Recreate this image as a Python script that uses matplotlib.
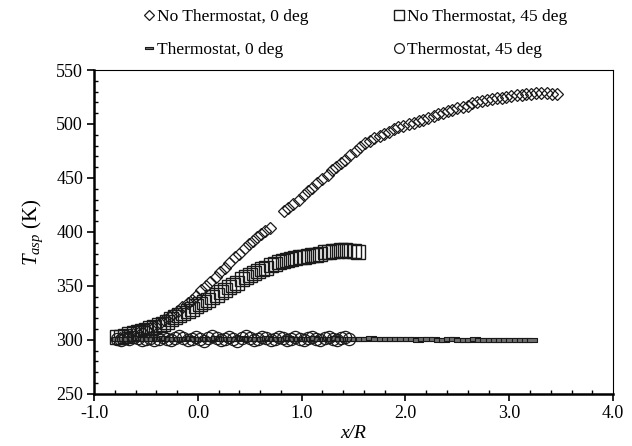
import matplotlib
matplotlib.use("Agg")
import matplotlib.pyplot as plt
from matplotlib.path import Path
from matplotlib.ticker import MultipleLocator, FormatStrFormatter

plt.rcParams['font.family'] = ['Liberation Serif', 'DejaVu Serif']
plt.rcParams['mathtext.fontset'] = 'custom'
plt.rcParams['mathtext.rm'] = 'Liberation Serif'
plt.rcParams['mathtext.it'] = 'Liberation Serif:italic'

# No Thermostat, 0 deg
x_nt0 = [-0.75, -0.71, -0.67, -0.63, -0.58, -0.54, -0.50, -0.46, -0.41, -0.37,
         -0.33, -0.28, -0.24, -0.19, -0.15, -0.10, -0.06, -0.02, 0.03, 0.08,
         0.12, 0.17, 0.21, 0.26, 0.30, 0.36, 0.40, 0.45, 0.49, 0.53,
         0.57, 0.61, 0.65, 0.69, 0.83, 0.87, 0.92, 0.97, 1.02, 1.06,
         1.10, 1.15, 1.20, 1.25, 1.29, 1.33, 1.38, 1.42, 1.47, 1.52,
         1.56, 1.61, 1.66, 1.70, 1.75, 1.79, 1.84, 1.89, 1.93, 1.98,
         2.03, 2.08, 2.13, 2.17, 2.22, 2.27, 2.31, 2.36, 2.41, 2.45,
         2.50, 2.55, 2.60, 2.64, 2.69, 2.74, 2.79, 2.83, 2.88, 2.93,
         2.97, 3.02, 3.07, 3.12, 3.16, 3.21, 3.26, 3.31, 3.36, 3.41, 3.46]
t_nt0 = [302, 303, 304, 305, 306, 307, 309, 311, 313, 316,
         318, 321, 324, 327, 330, 334, 337, 341, 346, 350,
         354, 358, 363, 367, 371, 377, 380, 385, 389, 392,
         395, 398, 401, 404, 419, 422, 426, 430, 434, 438,
         441, 445, 449, 453, 457, 460, 464, 467, 471, 475,
         479, 482, 484, 487, 489, 491, 493, 495, 497, 498,
         500, 501, 503, 504, 506, 507, 509, 510, 512, 513,
         515, 516, 517, 519, 520, 521, 522, 523, 524, 524,
         525, 526, 527, 527, 528, 528, 529, 529, 529, 528, 528]

# No Thermostat, 45 deg
x_nt45 = [-0.78, -0.74, -0.70, -0.66, -0.62, -0.58, -0.54, -0.50, -0.46, -0.42,
          -0.38, -0.34, -0.30, -0.26, -0.22, -0.18, -0.14, -0.10, -0.06, -0.02,
          0.02, 0.06, 0.10, 0.14, 0.18, 0.22, 0.26, 0.30, 0.34, 0.38,
          0.42, 0.46, 0.50, 0.54, 0.58, 0.62, 0.66, 0.70, 0.74, 0.78,
          0.82, 0.86, 0.90, 0.94, 0.98, 1.02, 1.06, 1.10, 1.14, 1.18,
          1.22, 1.26, 1.30, 1.34, 1.38, 1.42, 1.46, 1.50, 1.54]
t_nt45 = [303, 303, 304, 305, 306, 307, 308, 309, 311, 312,
          314, 315, 317, 319, 321, 323, 325, 327, 329, 331,
          333, 335, 337, 340, 342, 344, 346, 349, 351, 353,
          356, 358, 360, 362, 364, 366, 367, 369, 370, 372,
          373, 374, 375, 376, 377, 377, 378, 379, 379, 380,
          381, 381, 382, 382, 383, 383, 382, 382, 381]

# Thermostat, 0 deg
x_t0 = [-0.78, -0.73, -0.68, -0.63, -0.58, -0.53, -0.48, -0.43, -0.38, -0.33,
        -0.28, -0.23, -0.18, -0.13, -0.08, -0.03, 0.02, 0.07, 0.12, 0.17,
        0.22, 0.27, 0.32, 0.37, 0.42, 0.47, 0.52, 0.57, 0.62, 0.67,
        0.72, 0.77, 0.82, 0.87, 0.92, 0.97, 1.02, 1.07, 1.12, 1.17,
        1.22, 1.27, 1.32, 1.37, 1.42, 1.47, 1.52, 1.57, 1.62, 1.67,
        1.72, 1.77, 1.82, 1.87, 1.92, 1.97, 2.02, 2.07, 2.12, 2.17,
        2.22, 2.27, 2.32, 2.37, 2.42, 2.47, 2.52, 2.57, 2.62, 2.67,
        2.72, 2.77, 2.82, 2.87, 2.92, 2.97, 3.02, 3.07, 3.12, 3.17, 3.22]
t_t0 = [300.5, 301, 300.5, 301, 301.5, 301, 300.5, 301, 301, 301.5,
        301, 300.5, 301, 301, 301.5, 301, 300.5, 301, 301, 301.5,
        301, 301, 300.5, 301, 301.5, 301, 301, 300.5, 301, 301.5,
        301, 301, 301, 301.5, 301, 301, 300.5, 301, 301.5, 301,
        301, 301, 301.5, 301, 301, 301, 300.5, 301, 301, 301.5,
        301, 300.5, 300.5, 301, 301, 300.5, 300.5, 300.5, 300, 300.5,
        300.5, 300.5, 300, 300, 300.5, 300.5, 300, 300, 300, 300.5,
        300, 300, 299.5, 300, 300, 299.5, 299.5, 299.5, 299.5, 299.5, 299.5]

# Thermostat, 45 deg
x_t45 = [-0.78, -0.74, -0.70, -0.66, -0.62, -0.58, -0.54, -0.50, -0.46, -0.42,
         -0.38, -0.34, -0.30, -0.26, -0.22, -0.18, -0.14, -0.10, -0.06, -0.02,
         0.02, 0.06, 0.10, 0.14, 0.18, 0.22, 0.26, 0.30, 0.34, 0.38,
         0.42, 0.46, 0.50, 0.54, 0.58, 0.62, 0.66, 0.70, 0.74, 0.78,
         0.82, 0.86, 0.90, 0.94, 0.98, 1.02, 1.06, 1.10, 1.14, 1.18,
         1.22, 1.26, 1.30, 1.34, 1.38, 1.42, 1.46]
t_t45 = [301, 300, 302, 301, 303, 302, 300, 301, 302, 300,
         301, 303, 301, 300, 302, 304, 302, 300, 301, 303,
         301, 299, 302, 304, 302, 300, 301, 303, 301, 299,
         302, 304, 302, 300, 301, 303, 302, 300, 301, 303,
         302, 300, 301, 303, 301, 300, 302, 303, 301, 300,
         302, 303, 301, 300, 302, 303, 301]

labels = ['No Thermostat, 0 deg', 'No Thermostat, 45 deg',
          'Thermostat, 0 deg', 'Thermostat, 45 deg']

rect = Path([(-1, -0.35), (1, -0.35), (1, 0.35), (-1, 0.35), (-1, -0.35)],
            [Path.MOVETO, Path.LINETO, Path.LINETO, Path.LINETO, Path.CLOSEPOLY])
ec = '#1a1a1a'

fig = plt.figure(figsize=(6.32, 4.46), dpi=100)
ax = fig.add_axes([0.149, 0.117, 0.821, 0.726])

h1, = ax.plot(x_nt0, t_nt0, ls='none', marker='D', ms=6.2, mfc='none',
              mec=ec, mew=0.9)
h2, = ax.plot(x_nt45, t_nt45, ls='none', marker='s', ms=9.5, mfc='none',
              mec=ec, mew=1.0)
h3, = ax.plot(x_t0, t_t0, ls='none', marker=rect, ms=7.5, mfc='#707070',
              mec=ec, mew=0.8)
h4, = ax.plot(x_t45, t_t45, ls='none', marker='o', ms=8.8, mfc='none',
              mec=ec, mew=0.9)

ax.set_xlim(-1.0, 4.0)
ax.set_ylim(250, 550)
ax.xaxis.set_major_locator(MultipleLocator(1.0))
ax.xaxis.set_minor_locator(MultipleLocator(0.2))
ax.yaxis.set_major_locator(MultipleLocator(50))
ax.yaxis.set_minor_locator(MultipleLocator(10))
ax.xaxis.set_major_formatter(FormatStrFormatter('%.1f'))
ax.tick_params(which='major', direction='out', length=5, width=1.2,
               labelsize=13, pad=3)
ax.tick_params(which='minor', direction='in', length=3, width=1.0)

ax.spines['left'].set_linewidth(1.8)
ax.spines['bottom'].set_linewidth(1.8)
ax.spines['top'].set_linewidth(0.8)
ax.spines['right'].set_linewidth(0.8)

ax.set_xlabel('x/R', fontsize=14, style='italic', labelpad=2)
ax.set_ylabel('$T_{asp}$ (K)', fontsize=15, labelpad=8)

leg = fig.legend([h1, h3, h2, h4], [labels[0], labels[2], labels[1], labels[3]],
                 ncol=2, loc='center', bbox_to_anchor=(0.562, 0.925),
                 frameon=False, fontsize=12.5, labelspacing=1.0,
                 columnspacing=4.9, handletextpad=0.1, handlelength=0.7,
                 markerscale=0.8)

fig.savefig('out.png', dpi=100)
